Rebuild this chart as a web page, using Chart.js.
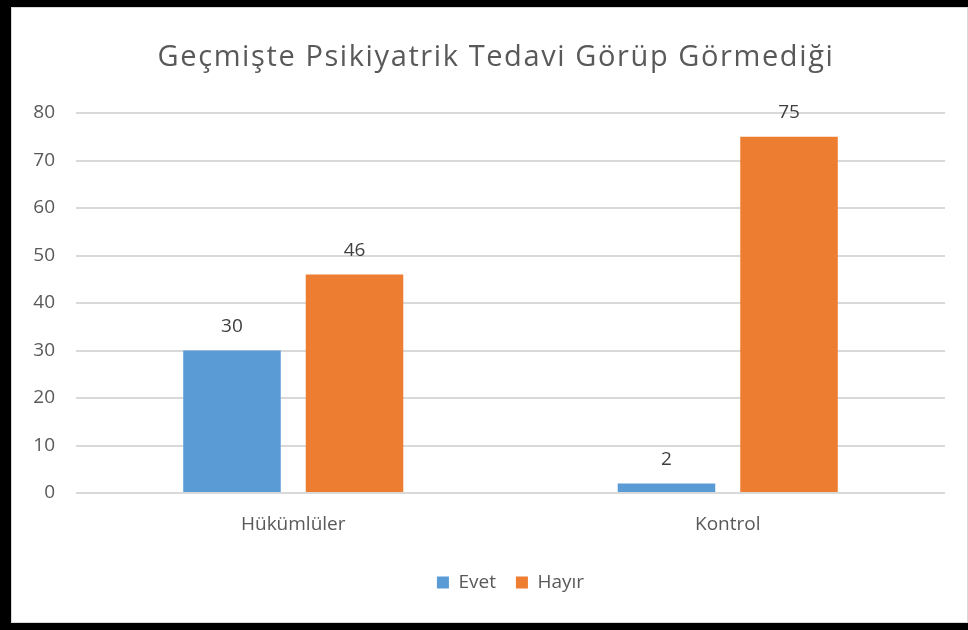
<!DOCTYPE html>
<html>
<head>
<meta charset="utf-8">
<script src="https://cdn.jsdelivr.net/npm/chart.js@4.4.0/dist/chart.umd.min.js"></script>
<style>
  html, body { margin: 0; padding: 0; background: #000; }
  body { width: 968px; height: 630px; position: relative; overflow: hidden; }
  .frame {
    position: absolute; left: 11px; top: 7px; width: 955px; height: 614px;
    background: #fff; border: 1px solid #d9d9d9;
  }
  .frame canvas { display: block; }
</style>
</head>
<body>
<div class="frame">
  <canvas id="chart" width="955" height="614"></canvas>
</div>
<script>
// Verileri
const categories = ['Hükümlüler', 'Kontrol'];
const evetValues = [30, 2];
const hayirValues = [46, 75];
const yTicks = [0, 10, 20, 30, 40, 50, 60, 70, 80];
const chartTitle = 'Geçmişte Psikiyatrik Tedavi Görüp Görmediği';

const FONT = "'Open Sans', sans-serif";

// Başlık (grafiğin biraz soluna ortalanmış)
const titleText = {
  id: 'titleText',
  afterDraw(chart) {
    const ctx = chart.ctx;
    ctx.save();
    ctx.font = `29px ${FONT}`;
    ctx.letterSpacing = '1.6px';
    ctx.fillStyle = '#595959';
    ctx.textAlign = 'center';
    ctx.textBaseline = 'middle';
    ctx.fillText(chartTitle, 484, 50);
    ctx.restore();
  }
};

// Çubukların üstüne değer yazar
const valueLabels = {
  id: 'valueLabels',
  afterDatasetsDraw(chart) {
    const ctx = chart.ctx;
    ctx.save();
    ctx.font = `19px ${FONT}`;
    ctx.fillStyle = '#404040';
    ctx.textAlign = 'center';
    ctx.textBaseline = 'alphabetic';
    chart.data.datasets.forEach((ds, i) => {
      chart.getDatasetMeta(i).data.forEach((bar, j) => {
        ctx.fillText(ds.data[j], bar.x, bar.y - 19);
      });
    });
    ctx.restore();
  }
};

new Chart(document.getElementById('chart'), {
  type: 'bar',
  data: {
    labels: categories,
    datasets: [
      { label: 'Evet', data: evetValues, backgroundColor: '#5b9bd5' },
      { label: 'Hayır', data: hayirValues, backgroundColor: '#ed7d31' }
    ]
  },
  options: {
    responsive: false,
    animation: false,
    layout: { padding: { left: 0, right: 22, top: 105, bottom: 20 } },
    datasets: {
      bar: { categoryPercentage: 0.564, barPercentage: 0.796 }
    },
    plugins: {
      title: { display: false },
      legend: {
        position: 'bottom',
        fullSize: false,
        labels: {
          color: '#595959',
          font: { family: FONT, size: 19 },
          boxWidth: 12,
          boxHeight: 12,
          padding: 20
        }
      },
      tooltip: { enabled: false }
    },
    scales: {
      y: {
        min: 0,
        max: 80,
        afterBuildTicks: axis => { axis.ticks = yTicks.map(v => ({ value: v })); },
        afterFit: axis => { axis.width = 64; },
        grid: { color: '#d9d9d9', lineWidth: 2, drawTicks: false },
        border: { display: false },
        ticks: { color: '#595959', font: { family: FONT, size: 19 }, padding: 21 }
      },
      x: {
        afterFit: axis => { axis.height = 60; },
        grid: { display: false, drawTicks: false },
        border: { display: false },
        ticks: { color: '#595959', font: { family: FONT, size: 19 }, padding: 20 }
      }
    }
  },
  plugins: [valueLabels, titleText]
});
</script>
</body>
</html>
